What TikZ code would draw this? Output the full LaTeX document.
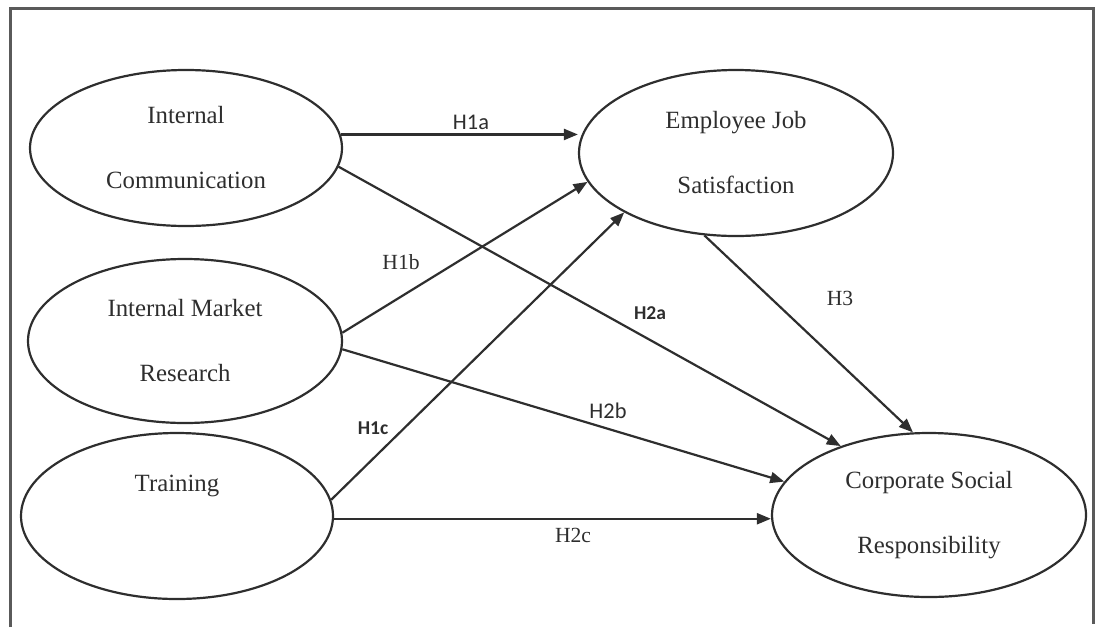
\documentclass[tikz,border=0pt]{standalone}
\usepackage{fontspec}
\setmainfont{Liberation Serif}
\newfontfamily\lblsans{Carlito}
\usetikzlibrary{arrows.meta,shapes.geometric}
\definecolor{ink}{HTML}{2E2E2E}
\definecolor{framec}{HTML}{5A5A5A}
\tikzset{
  construct/.style={draw=ink, line width=1.1pt, ellipse, inner sep=0pt, align=center,
    font=\fontsize{12.4}{32.5}\selectfont, text=ink},
  path/.style={draw=ink, line width=1.1pt, -{Triangle[length=7pt,width=5.5pt]}},
  serlbl/.style={font=\fontsize{10.8}{12}\selectfont, text=ink, inner sep=0pt},
  sanslbl/.style={font=\lblsans\fontsize{11.2}{12}\selectfont, text=ink, inner sep=0pt},
  sansbold/.style={font=\lblsans\bfseries\fontsize{9.8}{12}\selectfont, text=ink, inner sep=0pt},
}
\begin{document}
\begin{tikzpicture}[x=0.5pt,y=-0.5pt]
\useasboundingbox (0,0) rectangle (1095,627);
% frame
\draw[framec, line width=1.5pt] (10,627) -- (10,8) -- (1093,8) -- (1093,624);
% constructs
\node[construct, minimum width=156pt, minimum height=78pt] (ic) at (186,148) {Internal\\Communication};
\node[construct, minimum width=157pt, minimum height=82pt] (imr) at (185,341) {Internal Market\\Research};
\node[construct, minimum width=156pt, minimum height=83pt] (tr) at (177,516) {Training\\\mbox{}};
\node[construct, minimum width=157pt, minimum height=83pt] (ejs) at (736,153) {Employee Job\\Satisfaction};
\node[construct, minimum width=157pt, minimum height=82pt] (csr) at (929,515) {Corporate Social\\Responsibility};
% paths
\draw[path] (ic.5) -- (ic.5 -| ejs.west);
\draw[path] (ic.-7) -- (csr.142);
\draw[path] (imr.3) -- (ejs.191);
\draw[path] (imr.-3) -- (csr.167);
\draw[path] (tr.6) -- (ejs.208);
\draw[path] (tr.-1.5) -- (tr.-1.5 -| csr.west);
\draw[path] (ejs.249) -- (csr.101);
% labels
\node[sanslbl] (h1a) at (471,122) {H1a};
\node[serlbl] (h1b) at (401,262) {H1b};
\node[sansbold] (h2a) at (650,313) {H2a};
\node[sanslbl] (h2b) at (608,411) {H2b};
\node[sansbold] (h1c) at (373,428) {H1c};
\node[serlbl] (h2c) at (573,535) {H2c};
\node[serlbl] (h3) at (840,298) {H3};
\end{tikzpicture}
\end{document}
